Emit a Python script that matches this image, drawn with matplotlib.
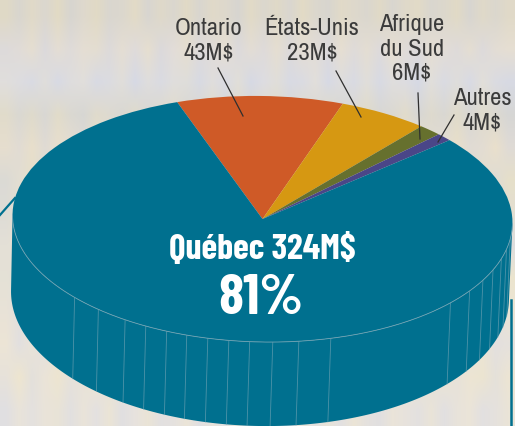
"""Pseudo-3D pie of revenue by region (Québec, Ontario, États-Unis, ...)."""
import numpy as np
import matplotlib
matplotlib.use("Agg")
import matplotlib.pyplot as plt
from matplotlib.colors import to_rgb
from matplotlib.transforms import Affine2D

plt.rcParams["font.family"] = ["Archivo Narrow", "Roboto Condensed", "Liberation Sans", "DejaVu Sans"]
BOLD_FAMILY = ["Barlow Condensed", "IBM Plex Sans Condensed", "Liberation Sans", "DejaVu Sans"]

# Data
regions = ["Ontario", "États-Unis", "Afrique du Sud", "Autres", "Québec"]
amounts = [43, 23, 6, 4, 324]
slice_colors = ["#cf5a27", "#d69812", "#66702e", "#4a4688", "#00708f"]
labels = ["Ontario\n43M$", "États-Unis\n23M$", "Afrique\ndu Sud\n6M$", "Autres\n4M$"]
centre_name = "Québec 324M$"
centre_share = "81%"

# Angles (degrees, around the rim) of the thin ribs on the side wall
rib_angles = [221.8, 229.5, 237.2, 242.7, 248.0, 252.9, 257.9, 262.8, 267.6,
              272.9, 278.9, 286.4, 319.3, 326.5, 332.4, 337.8, 343.4, 348.0, 353.0]

# Paper texture: one tint per horizontal band, plus a vertical streak pattern
band_tints = ["#ddd8cb", "#e1dcd6", "#dcdcdf", "#dcd9cf", "#e4ddd0", "#e1ddd0",
              "#e0ddd3", "#e2dfd8", "#e6e2d4", "#e8e2d6", "#e7e2da", "#e9e3d6", "#e6e2dc"]
streak_r = [4, -6, 5, -3, 7, -8, 2, 6, -5, -2, 8, -7, 3, -4, 6, -6, 5, 1, -8, 7,
            -3, 4, -5, 8, -2, -7, 6, 2, -4, 5, -6, 3, 7, -5, -1, 6, -8, 4, -3, 5]
streak_b = [-7, 5, -4, 6, -9, 7, 3, -8, 6, 4, -6, 8, -2, 5, -7, 6, -3, 2, 8, -6,
            4, -5, 7, -8, 3, 6, -4, 1, 5, -6, 7, -2, -5, 6, 2, -7, 8, -3, 4, -4]


def paper_texture():
    base = np.array([to_rgb(c) for c in band_tints])
    r = 0.7 * np.array(streak_r) / 255
    b = 0.7 * np.array(streak_b) / 255
    tex = np.zeros((len(base), len(r), 3))
    for i, tint in enumerate(base):
        shift = 7 * i
        tex[i, :, 0] = tint[0] + np.roll(r, shift)
        tex[i, :, 1] = tint[1] + 0.5 * np.roll(r, shift)
        tex[i, :, 2] = tint[2] + np.roll(b, shift)
    return np.clip(tex, 0, 1)


def main():
    fig = plt.figure(figsize=(5.15, 4.26), dpi=100)
    ax = fig.add_axes([0, 0, 1, 1])

    ax.imshow(paper_texture(), extent=(0, 515, 426, 0), interpolation="bilinear",
              aspect="auto", zorder=0)

    tilt = 1.1  # the whole disc is turned slightly clockwise
    top = Affine2D().scale(250, -123).rotate_deg(tilt).translate(262.5, 219)
    bottom = Affine2D().scale(249, -131).rotate_deg(tilt).translate(260, 295)
    teal = slice_colors[-1]
    rim = "#6ea2b3"

    # Side wall
    t = np.radians(np.linspace(180, 360, 200))
    unit = np.column_stack([np.cos(t), np.sin(t)])
    top_rim = top.transform(unit)
    bottom_rim = bottom.transform(unit)
    wall = np.vstack([top_rim, bottom_rim[::-1]])
    ax.fill(wall[:, 0], wall[:, 1], color=teal, lw=0, zorder=1)

    # Ribs and rim highlight
    for a in np.radians(rib_angles):
        p = np.array([[np.cos(a), np.sin(a)]])
        p0, p1 = top.transform(p)[0], bottom.transform(p)[0]
        ax.plot([p0[0], p1[0]], [p0[1], p1[1]], color=rim, lw=0.6, alpha=0.7, zorder=2)

    # Top face: unit pie squashed into an ellipse
    wedges, _ = ax.pie(amounts, startangle=110.5, counterclock=False, colors=slice_colors,
                       wedgeprops={"linewidth": 0})
    for w in wedges:
        w.set_transform(top + ax.transData)
        w.set_zorder(3)
    ax.plot(top_rim[:, 0], top_rim[:, 1], color=rim, lw=0.6, zorder=4)

    # Thin frame lines running off the sides
    ax.plot([0, 15], [215, 198], color=teal, lw=1.6, zorder=0.5)
    ax.plot([511, 511], [300, 426], color=teal, lw=1.8, zorder=0.5)

    # Labels and leader lines
    ink = "#3b3b3b"
    label_pos = [(209, 41), (312, 41), (412, 49), (482, 111)]
    leaders = [((218, 68), (243, 116)), ((336, 71), (361, 117)),
               ((418, 93), (420, 139)), ((454, 115), (438, 142))]
    for text, pos, (p0, p1) in zip(labels, label_pos, leaders):
        ax.text(pos[0], pos[1], text, ha="center", va="center",
                fontsize=17.8, color=ink, linespacing=1.2, zorder=6)
        ax.plot([p0[0], p1[0]], [p0[1], p1[1]], color="#2f2f2f", lw=0.9, zorder=6)

    ax.text(262, 250, centre_name, ha="center", va="center", fontsize=25.8,
            fontweight="bold", family=BOLD_FAMILY, color="white", zorder=6)
    ax.text(261, 299, centre_share, ha="center", va="center", fontsize=41,
            fontweight="bold", family=BOLD_FAMILY, color="white", zorder=6)

    ax.set_xlim(0, 515)
    ax.set_ylim(426, 0)
    ax.set_aspect("auto")
    ax.axis("off")

    fig.savefig("out.png", dpi=100)


if __name__ == "__main__":
    main()
